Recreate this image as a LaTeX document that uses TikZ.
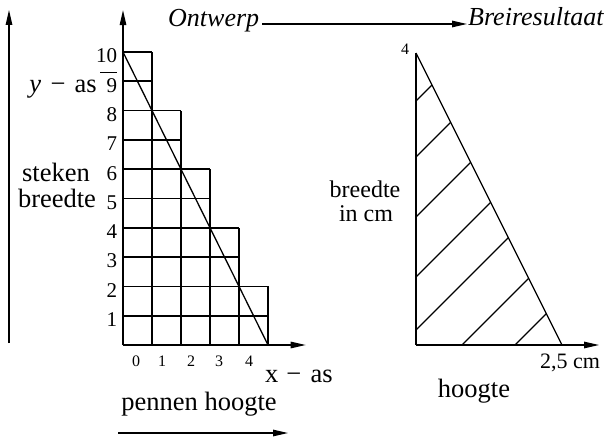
\documentclass[tikz,border=0pt]{standalone}
\usepackage{fontspec}
\setmainfont{Liberation Serif}
\usetikzlibrary{arrows.meta}
\begin{document}
\begin{tikzpicture}[x=1pt,y=-1pt,
  arr/.style={line width=1.2pt,-{Triangle[length=15pt,width=6.5pt]}},
  gridln/.style={line width=1.7pt},
  thinln/.style={line width=1.3pt},
  lbl/.style={inner sep=0pt, font=\fontsize{26.5}{30}\selectfont},
  rlbl/.style={inner sep=0pt, font=\fontsize{24}{26}\selectfont},
  ital/.style={inner sep=0pt, font=\fontsize{26}{30}\selectfont\itshape},
  ynum/.style={inner sep=0pt, anchor=east, font=\fontsize{21}{23}\selectfont},
  xnum/.style={inner sep=0pt, font=\fontsize{16}{18}\selectfont},
  rnum/.style={inner sep=0pt, font=\fontsize{22}{24}\selectfont},
]
\useasboundingbox (0,0) rectangle (607,438);

% ---- left outer arrow
\coordinate (bigA) at (9,343);
\coordinate (bigB) at (9,10);
\draw[arr] (bigA) -- (bigB);

% ---- grid (design)
\begin{scope}[xshift=123pt, yshift=-345pt, x=29pt, y=29.3pt]
  \coordinate (O) at (0,0);
  \coordinate (Ytip) at (0,11.43);
  \coordinate (Xtip) at (6.3,0);
  \draw[arr] (O) -- (Ytip);
  \draw[arr] (O) -- (Xtip);
  \foreach \k/\w in {1/5,2/5,3/4,4/4,5/3,6/3,7/2,8/2,9/0.95,10/1}
    \draw[gridln] (0,\k) -- (\w,\k);
  \foreach \k/\h in {1/10,2/8,3/6,4/4,5/2}
    \draw[gridln] (\k,0) -- (\k,\h);
  \draw[gridln] (0,0) -- (5,0);
  \draw[gridln] (0,0) -- (0,10);
  \coordinate (D1) at (0,10);
  \coordinate (D2) at (5,0);
  \draw[thinln] (D1) -- (D2);
  \foreach \k in {1,...,10}
    \node[ynum, yshift=-4pt] (y\k) at (-0.2,\k) {\k};
\end{scope}

% stray mark above 9
\draw[line width=0.8pt] (100,72) -- (117,72);

% x tick labels
\node[xnum] (x0) at (136,361) {0};
\node[xnum] (x1) at (162,361) {1};
\node[xnum] (x2) at (191,361) {2};
\node[xnum] (x3) at (219,361) {3};
\node[xnum] (x4) at (249,361) {4};

% labels left part
\node[lbl, anchor=base east] (yas) at (97,93) {\textit{y}\hspace{0.35em}−\hspace{0.35em}as};
\node[lbl, anchor=base] (steken) at (56,182) {steken};
\node[lbl, anchor=base] (breedteL) at (57,208) {breedte};
\node[lbl, anchor=base west] (xas) at (265,382) {x\hspace{0.3em}−\hspace{0.35em}as};
\node[lbl, anchor=base] (pennen) at (199,410) {pennen hoogte};
\coordinate (pa) at (118,433);
\coordinate (pb) at (288,433);
\draw[arr] (pa) -- (pb);

% ---- title
\node[ital, anchor=base west] (ontw) at (168,27) {Ontwerp};
\node[ital, anchor=base west] (brei) at (468,26) {Breiresultaat};
\draw[arr] ([xshift=3pt,yshift=3pt]ontw.base east) -- ([xshift=-1pt,yshift=2pt]brei.base west);

% ---- result triangle
\coordinate (T) at (416,53);
\coordinate (L) at (416,345);
\coordinate (R) at (562,345);
\coordinate (Rx) at (599,345);
\draw[thinln] (T) -- (L);
\draw[arr] (L) -- (Rx);
\draw[thinln] (T) -- (R);
\foreach \a/\b/\c/\d in {416/101/432.0/85.0, 416/157/450.7/122.3, 416/217/470.7/162.3,
  416/277/490.7/202.3, 416/330/508.3/237.7, 462/345/528.7/278.3, 515/345/546.3/313.7}
  \draw[thinln] (\a,\b) -- (\c,\d);

\node[inner sep=0pt, font=\fontsize{16}{18}\selectfont] (four) at (405,49) {4};
\node[rnum, anchor=base west] (cm) at (540,368) {2,5 cm};
\node[lbl, anchor=base] (hoogte) at (474,397) {hoogte};
\node[rlbl, anchor=base] (breedteR) at (365,198) {breedte};
\node[rlbl, anchor=base] (incm) at (366,222) {in cm};
\end{tikzpicture}
\end{document}
